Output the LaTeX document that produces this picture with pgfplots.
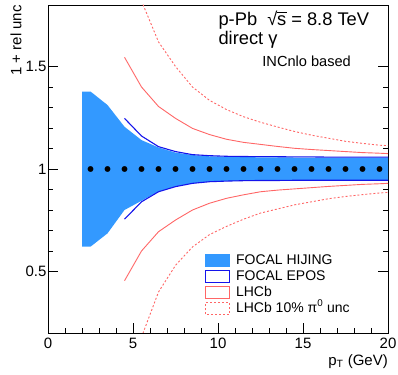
\documentclass[border=0pt]{standalone}
\usepackage{fontspec}
\setmainfont{Liberation Sans}
\usepackage{pgfplots}
\pgfplotsset{compat=1.18}
\definecolor{bandblue}{RGB}{51,153,255}
\definecolor{eposblue}{RGB}{20,20,235}
\definecolor{lhcbred}{RGB}{255,102,102}
\begin{document}
\begin{tikzpicture}
\useasboundingbox (-48pt,-41pt) rectangle (350pt,333pt);
\begin{axis}[
  at={(0pt,0pt)}, anchor=south west, scale only axis,
  width=340pt, height=328pt,
  xmin=0, xmax=20, ymin=0.2, ymax=1.8,
  clip mode=individual,
  xtick={0,5,10,15,20}, minor x tick num=4,
  ytick={0.5,1,1.5}, minor y tick num=4,
  tick align=inside, xtick pos=lower, ytick pos=both,
  major tick length=10pt, minor tick length=5pt,
  axis line style={line width=0.8pt},
  every tick/.style={black, line width=0.8pt},
  tick label style={font=\fontsize{15}{15}\selectfont, /pgf/number format/assume math mode=true},
  xticklabel style={yshift=-1.5pt},
  yticklabel style={xshift=2pt},
  legend style={at={(axis cs:9.24,0.585)}, anchor=north west, draw=none, fill=none,
    inner sep=0pt, outer sep=0pt, font=\fontsize{14}{14}\selectfont, row sep=3.2pt,
    nodes={inner sep=0pt, text height=10pt, text depth=2.8pt},
    /tikz/every odd column/.style={column sep=6pt}},
  legend cell align=left,
]
% FOCAL HIJING band
\addplot[fill=bandblue, draw=none, forget plot] coordinates {
 (2,1.378) (2.5,1.378) (3.5,1.312) (4.5,1.206) (5.5,1.141) (6.5,1.105) (7.5,1.080) (8.5,1.068)
 (9.5,1.062) (10.5,1.060) (11.5,1.058) (12.5,1.057) (13.5,1.057) (14.5,1.056) (15.5,1.056)
 (16.5,1.056) (17.5,1.056) (18.5,1.056) (19.5,1.056) (20,1.056)
 (20,0.946) (19.5,0.946) (18.5,0.946) (17.5,0.946) (16.5,0.946) (15.5,0.946) (14.5,0.945)
 (13.5,0.945) (12.5,0.944) (11.5,0.943) (10.5,0.942) (9.5,0.938) (8.5,0.930) (7.5,0.915)
 (6.5,0.890) (5.5,0.845) (4.5,0.800) (3.5,0.686) (2.5,0.621) (2,0.621)
};
% FOCAL EPOS
\addplot[eposblue, line width=1.1pt, forget plot] coordinates {
 (4.5,1.247) (5.5,1.161) (6.5,1.109) (7.5,1.085) (8.5,1.070) (9.5,1.065) (10.5,1.062) (11.5,1.061)
 (12.5,1.060) (13.5,1.060) (14.5,1.059) (15.5,1.059) (16.5,1.058) (17.5,1.058) (18.5,1.058) (19.5,1.058) (20,1.058)
};
\addplot[eposblue, line width=1.1pt, forget plot] coordinates {
 (4.5,0.755) (5.5,0.840) (6.5,0.889) (7.5,0.914) (8.5,0.930) (9.5,0.938) (10.5,0.941) (11.5,0.943)
 (12.5,0.944) (13.5,0.944) (14.5,0.945) (15.5,0.945) (16.5,0.945) (17.5,0.945) (18.5,0.945) (19.5,0.945) (20,0.945)
};
% LHCb
\addplot[lhcbred, line width=0.9pt, forget plot] coordinates {
 (4.5,1.545) (5.5,1.400) (6.5,1.305) (7.5,1.247) (8.5,1.198) (9.5,1.168) (10.5,1.145) (11.5,1.130)
 (12.5,1.120) (13.5,1.110) (14.5,1.101) (15.5,1.095) (16.5,1.090) (17.5,1.085) (18.5,1.080) (19.5,1.077) (20,1.075)
};
\addplot[lhcbred, line width=0.9pt, forget plot] coordinates {
 (4.5,0.455) (5.5,0.600) (6.5,0.694) (7.5,0.751) (8.5,0.800) (9.5,0.833) (10.5,0.857) (11.5,0.874)
 (12.5,0.889) (13.5,0.897) (14.5,0.903) (15.5,0.909) (16.5,0.915) (17.5,0.920) (18.5,0.925) (19.5,0.928) (20,0.930)
};
% LHCb 10% pi0
\addplot[lhcbred, line width=0.9pt, dash pattern=on 2pt off 2pt, forget plot] coordinates {
 (5.5,1.820) (6.5,1.620) (7.5,1.500) (8.5,1.400) (9.5,1.335) (10.5,1.290) (11.5,1.255) (12.5,1.228)
 (13.5,1.205) (14.5,1.183) (15.5,1.165) (16.5,1.150) (17.5,1.135) (18.5,1.125) (19.5,1.116) (20,1.114)
};
\addplot[lhcbred, line width=0.9pt, dash pattern=on 2pt off 2pt, forget plot] coordinates {
 (5.5,0.180) (6.5,0.400) (7.5,0.530) (8.5,0.620) (9.5,0.680) (10.5,0.720) (11.5,0.755) (12.5,0.785)
 (13.5,0.805) (14.5,0.825) (15.5,0.840) (16.5,0.855) (17.5,0.866) (18.5,0.875) (19.5,0.883) (20,0.886)
};
% central points
\addplot[only marks, mark=*, mark size=2.7pt, black, forget plot] coordinates {
 (2.5,1) (3.5,1) (4.5,1) (5.5,1) (6.5,1) (7.5,1) (8.5,1) (9.5,1) (10.5,1) (11.5,1)
 (12.5,1) (13.5,1) (14.5,1) (15.5,1) (16.5,1) (17.5,1) (18.5,1) (19.5,1)
};
% legend
\addlegendimage{legend image code/.code={\fill[bandblue] (0pt,-5.8pt) rectangle (24pt,5.8pt);}}
\addlegendentry{FOCAL HIJING}
\addlegendimage{legend image code/.code={\draw[eposblue, line width=1pt, fill=white] (0pt,-5.8pt) rectangle (24pt,5.8pt);}}
\addlegendentry{FOCAL EPOS}
\addlegendimage{legend image code/.code={\draw[lhcbred, line width=0.9pt, fill=white] (0pt,-5.8pt) rectangle (24pt,5.8pt);}}
\addlegendentry{LHCb}
\addlegendimage{legend image code/.code={\draw[lhcbred, line width=0.9pt, dash pattern=on 2pt off 2pt, fill=white] (0pt,-5.8pt) rectangle (24pt,5.8pt);}}
\addlegendentry{LHCb 10\% π\textsuperscript{0} unc}
% texts
\node[anchor=base west, inner sep=0pt, font=\fontsize{18.3}{18.3}\selectfont] at (axis cs:10.02,1.6976) {p-Pb\ \ √\kern-0.02em\rlap{\rule[0.70em]{0.52em}{0.055em}}s = 8.8 TeV};
\node[anchor=base west, inner sep=0pt, font=\fontsize{18.3}{18.3}\selectfont] at (axis cs:10.02,1.605) {direct γ};
\node[anchor=base west, inner sep=0pt, font=\fontsize{14.6}{14.6}\selectfont] at (axis cs:12.6,1.502) {INCnlo based};
\node[anchor=east, rotate=90, inner sep=0pt, font=\fontsize{15}{15}\selectfont] at ([xshift=-32pt]rel axis cs:0,1) {1 + rel unc};
\node[anchor=base east, inner sep=0pt, font=\fontsize{15}{15}\selectfont] at ([yshift=-32.7pt]rel axis cs:1,0) {p\textsubscript{T} (GeV)};
\end{axis}
\end{tikzpicture}
\end{document}
